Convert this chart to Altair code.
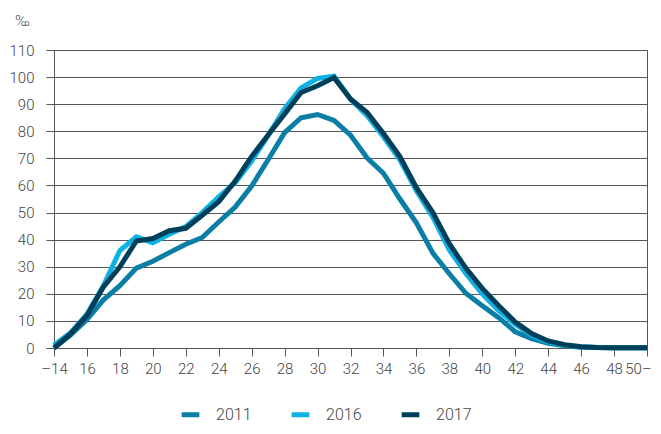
import altair as alt
import pandas as pd

ages = list(range(14, 51))
v2011 = [0, 4.8, 10.5, 17.8, 23, 29.5, 32, 35.2, 38.3, 40.8, 46.5, 52, 59.8, 69.5, 79.5, 85, 86.2,
         84, 78.6, 70.2, 64.5, 55, 46.2, 35, 27.4, 20.2, 15.6, 11.2, 6, 3.5, 1.7, 0.8, 0.3, 0.15, 0.1, 0.1, 0.1]
v2016 = [1, 5.6, 12.5, 23, 36, 41, 38.8, 42, 44.8, 50, 55.8, 61, 69, 78.5, 88.3, 96, 99.5,
         100.3, 91.9, 85.8, 78, 69.5, 58, 48.3, 36.2, 27.5, 20, 13.8, 8.8, 4.7, 2.2, 1, 0.5, 0.2, 0.1, 0.1, 0.1]
v2017 = [0, 5.2, 12, 22.5, 30, 39.5, 40.4, 43.3, 44.2, 49, 54, 61.6, 70.7, 78.6, 86.4, 94.3, 96.8,
         99.8, 91.9, 87, 79.2, 70.7, 59.2, 50, 38.5, 29.5, 22, 15.6, 9.6, 5.3, 2.6, 1.2, 0.5, 0.2, 0.1, 0.1, 0.1]
series = ["2011", "2016", "2017"]
colors = ["#0b7ea6", "#0db2e4", "#003f5a"]
x_ticks = list(range(14, 51, 2))
y_ticks = list(range(0, 111, 10))

rows = []
for name, vals in zip(series, [v2011, v2016, v2017]):
    for a, v in zip(ages, vals):
        rows.append({"age": a, "value": v, "year": name, "order": series.index(name)})
df = pd.DataFrame(rows)

font = "Roboto"
tc = "#444444"
fs = 15

chart = alt.Chart(df).mark_line(strokeWidth=5, strokeJoin="miter", strokeCap="butt").encode(
    x=alt.X("age:Q",
            scale=alt.Scale(domain=[14, 50], nice=False, zero=False),
            axis=alt.Axis(values=x_ticks, title=None, grid=False,
                          labelExpr="datum.value == 14 ? '\u201314' : datum.value == 50 ? '50\u2013' : datum.value",
                          labelOffset={"expr": "datum.value == 50 ? -9 : 0"},
                          tickSize=8, tickColor="#555555", domainColor="#555555",
                          labelPadding=5, labelFont=font, labelFontSize=fs, labelFontWeight=300,
                          labelColor=tc, labelFlush=False)),
    y=alt.Y("value:Q",
            scale=alt.Scale(domain=[0, 110], nice=False),
            axis=alt.Axis(values=y_ticks, title="\u2030", titleAngle=0, titleX=-32, titleY=-30,
                          titleAlign="center", titleBaseline="middle", titleFont=font,
                          titleFontSize=fs, titleFontWeight=300, titleColor=tc,
                          grid=True, gridColor="#555555", gridWidth=1,
                          tickSize=8, tickColor="#555555", domainColor="#555555",
                          labelPadding=12, labelFont=font, labelFontSize=fs, labelFontWeight=300,
                          labelColor=tc)),
    color=alt.Color("year:N", scale=alt.Scale(domain=series, range=colors),
                    legend=alt.Legend(title=None, orient="none", direction="horizontal",
                                      legendX=125, legendY=353, symbolType="stroke",
                                      symbolStrokeWidth=5, symbolSize=313, labelOffset=14,
                                      columnPadding=29, gridAlign="all", labelFont=font,
                                      labelFontSize=16, labelFontWeight=300, labelColor=tc)),
    order=alt.Order("order:Q"),
    detail="year:N",
).properties(
    width=593, height=298,
    autosize=alt.AutoSizeParams(type="none"),
    padding={"left": 46, "top": 42, "right": 6, "bottom": 78},
).configure_view(stroke="#555555", strokeWidth=1)

chart.save("out.html", embed_options={"renderer": "svg", "actions": False})
